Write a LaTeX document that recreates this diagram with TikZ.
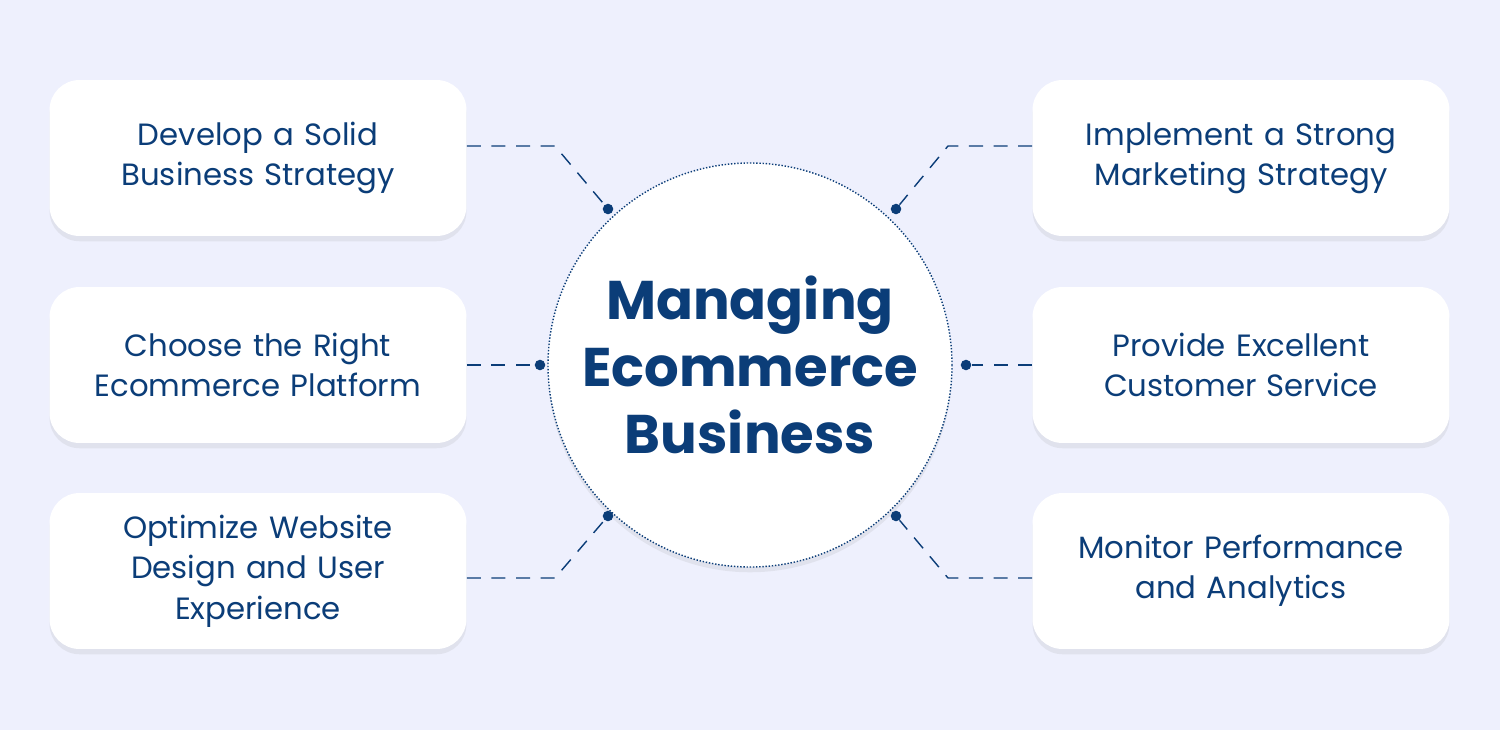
\documentclass[tikz,border=0pt]{standalone}
\usepackage{fontspec}
\setmainfont{Poppins}
\usetikzlibrary{positioning,shadows}
\definecolor{bgblue}{HTML}{EEF0FD}
\definecolor{navy}{HTML}{0B3D78}
\tikzset{
    step box/.style={
           rectangle,
           rounded corners=0.6cm,
           fill=white,
           minimum width=8.34cm,
           minimum height=3.12cm,
           text width=8cm,
           align=center,
           text=navy,
           font=\fontsize{17.5pt}{23pt}\selectfont,
           drop shadow={opacity=0.12,shadow xshift=0pt,shadow yshift=-3pt},
           },
    hub ring/.style={
           fill=white,
           draw=navy, densely dotted, thick,
           drop shadow={opacity=0.12,shadow xshift=0pt,shadow yshift=-3pt},
           },
    hub/.style={
           align=center,
           text=navy,
           font=\fontsize{31pt}{38pt}\selectfont\bfseries,
           },
    link/.style={draw=navy, dashed, dash pattern=on 8pt off 6pt, thick},
    pin/.style={circle, fill=navy, inner sep=0pt, minimum size=6pt},
}
\begin{document}
\begin{tikzpicture}[x=0.02cm,y=-0.02cm]

 % background
 \fill[bgblue] (0,0) rectangle (1500,730);

 % centre circle
 \path[hub ring] (750,365) circle[radius=202];
 \node[hub] (Hub) at (750,365) {Managing\\Ecommerce\\Business};

 % left column
 \node[step box] (Strategy) at (258,158) {Develop a Solid\\Business Strategy};
 \node[step box] (Platform) at (258,365) {Choose the Right\\Ecommerce Platform};
 \node[step box] (Design) at (258,571) {Optimize Website\\Design and User\\Experience};

 % right column
 \node[step box] (Marketing) at (1241,158) {Implement a Strong\\Marketing Strategy};
 \node[step box] (Service) at (1241,365) {Provide Excellent\\Customer Service};
 \node[step box] (Analytics) at (1241,571) {Monitor Performance\\and Analytics};

 % dots on the circle
 \node[pin] (p1) at (608,209) {};
 \node[pin] (p2) at (540,365) {};
 \node[pin] (p3) at (608,516) {};
 \node[pin] (p4) at (896,209) {};
 \node[pin] (p5) at (966,365) {};
 \node[pin] (p6) at (896,516) {};

 % dashed links
 \path[link] (Strategy.east |- 0,146) -- (555,146) -- (p1);
 \path[link] (Platform.east) -- (p2);
 \path[link] (Design.east |- 0,578) -- (555,578) -- (p3);
 \path[link] (Marketing.west |- 0,146) -- (948,146) -- (p4);
 \path[link] (Service.west) -- (p5);
 \path[link] (Analytics.west |- 0,578) -- (948,578) -- (p6);
\end{tikzpicture}
\end{document}
